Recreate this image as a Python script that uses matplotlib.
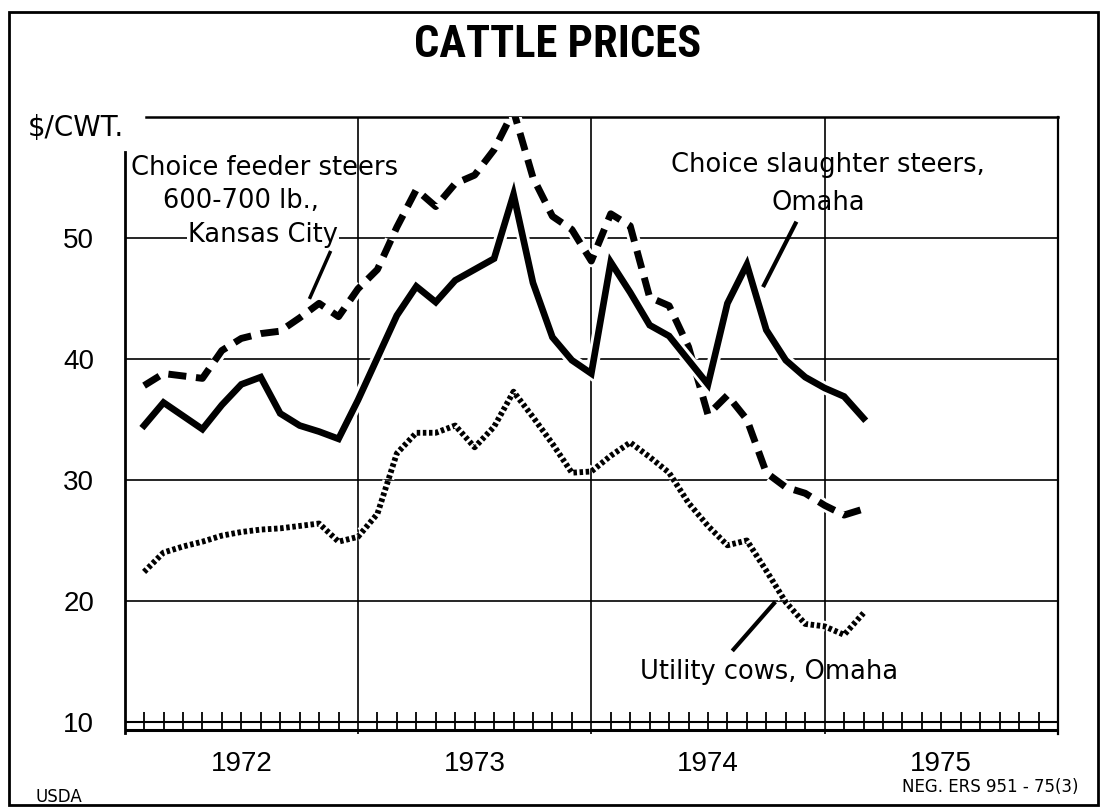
import numpy as np
import matplotlib
matplotlib.use("Agg")
import matplotlib.pyplot as plt
import matplotlib.patheffects as pe
from matplotlib import font_manager
from matplotlib.patches import Rectangle

# monthly prices, $/cwt, Jan 1972 - Feb 1975
slaughter_steers = [34.5, 36.4, 35.3, 34.2, 36.2, 37.9, 38.5, 35.5, 34.5, 34.0, 33.4, 36.6,
                    40.1, 43.6, 46.0, 44.7, 46.5, 47.4, 48.3, 53.6, 46.3, 41.8, 39.9, 38.8,
                    48.0, 45.5, 42.8, 41.9, 39.9, 37.9, 44.6, 47.8, 42.4, 39.9, 38.5, 37.6,
                    36.9, 35.1]
feeder_steers = [37.8, 38.8, 38.6, 38.4, 40.7, 41.7, 42.1, 42.3, 43.4, 44.6, 43.5, 45.8,
                 47.4, 50.9, 54.0, 52.6, 54.5, 55.2, 57.3, 60.5, 55.0, 51.8, 50.7, 48.1,
                 52.0, 51.0, 45.1, 44.4, 41.0, 35.4, 37.0, 35.0, 30.6, 29.4, 28.9, 27.9,
                 27.1, 27.6]
utility_cows = [22.4, 24.0, 24.5, 24.9, 25.4, 25.7, 25.9, 26.0, 26.2, 26.4, 24.9, 25.3,
                27.2, 32.2, 33.9, 33.9, 34.5, 32.7, 34.4, 37.3, 35.2, 33.0, 30.6, 30.7,
                32.0, 33.1, 31.9, 30.6, 28.1, 26.2, 24.6, 25.0, 22.5, 19.9, 18.1, 17.9,
                17.2, 19.0]
years = [1972, 1973, 1974, 1975]
y_ticks = [10, 20, 30, 40, 50]

# points sit on the month-end ticks
x = 1972 + (np.arange(len(slaughter_steers)) + 1) / 12.0

fonts = font_manager.fontManager.ttflist
names = {f.name for f in fonts}
label_font = "Liberation Sans" if "Liberation Sans" in names else "DejaVu Sans"

# narrow bold face for the title, if one is installed
title_kw = dict(fontfamily="DejaVu Sans", fontsize=25, fontweight="bold")
for fam in ["Liberation Sans Narrow", "Roboto Condensed", "Open Sans Condensed"]:
    if fam in names:
        title_kw = dict(fontfamily=fam, fontsize=32, fontweight="bold")
        break
else:
    if any(f.name == "DejaVu Sans" and "condensed" in str(f.stretch) for f in fonts):
        title_kw = dict(fontfamily="DejaVu Sans", fontsize=28, fontweight="bold",
                        fontstretch="condensed")

fig = plt.figure(figsize=(11, 8.1), dpi=100)
ax = fig.add_axes([0.1133, 0.0938, 0.8485, 0.7617])
ax.set_xlim(1972, 1976)
ax.set_ylim(9.0, 60)

for s in ["top", "left", "bottom"]:
    ax.spines[s].set_visible(False)
ax.spines["right"].set_linewidth(1.6)

# frame pieces
ax.plot([1972.09, 1976], [60, 60], color="black", lw=1.8, clip_on=False, zorder=2)
ax.plot([1972, 1972], [9.1, 57.1], color="black", lw=2.0, clip_on=False, zorder=2)

# grid
for v in y_ticks[1:]:
    ax.axhline(v, color="black", lw=1.2, zorder=1)
for yr in years[1:]:
    ax.axvline(yr, color="black", lw=1.2, zorder=1)

# double base line with month ticks
ax.axhline(10, color="black", lw=1.5, zorder=2)
ax.plot([1972, 1976], [9.35, 9.35], color="black", lw=2.2, zorder=2)
for k in range(1, 48):
    if k % 12:
        ax.vlines(1972 + k / 12.0, 9.3, 10.8, color="black", lw=1.3, zorder=2)

ax.set_yticks(y_ticks)
ax.set_yticklabels([str(v) for v in y_ticks], fontfamily=label_font)
ax.tick_params(axis="y", length=0, pad=22, labelsize=20)
ax.set_xticks([yr + 0.5 for yr in years])
ax.set_xticklabels([str(yr) for yr in years], fontfamily=label_font)
ax.tick_params(axis="x", length=0, pad=12, labelsize=20)

# series
ax.plot(x, feeder_steers, color="black", lw=5.0, ls=(0, (2.6, 1.4)),
        dash_capstyle="butt", zorder=4,
        path_effects=[pe.Stroke(linewidth=9, foreground="white"), pe.Normal()])
ax.plot(x, slaughter_steers, color="black", lw=4.8, solid_joinstyle="miter", zorder=4,
        path_effects=[pe.Stroke(linewidth=9, foreground="white"), pe.Normal()])
ax.plot(x, utility_cows, color="black", lw=4.2, ls=(0, (0.6, 0.45)),
        dash_capstyle="butt", zorder=4,
        path_effects=[pe.Stroke(linewidth=8, foreground="white"), pe.Normal()])

# labels
tk = dict(fontfamily="DejaVu Sans", fontsize=18.5, ha="center", va="center", zorder=3)
ax.text(1972.60, 55.8, "Choice feeder steers", **tk)
ax.text(1972.50, 53.1, "600-700 lb.,", **tk)
ax.text(1972.593, 50.25, "Kansas City",
        bbox=dict(facecolor="white", edgecolor="none", pad=1), **tk)
ax.plot([1972.88, 1972.795], [48.8, 45.1], color="black", lw=2.5, zorder=3)

ax.text(1975.014, 56.0, "Choice slaughter steers,", **tk)
ax.text(1974.971, 52.9, "Omaha", **tk)
ax.plot([1974.875, 1974.74], [51.2, 46.1], color="black", lw=3, zorder=3)

ax.text(1974.76, 14.1, "Utility cows, Omaha", **tk)
ax.plot([1974.783, 1974.61], [19.8, 16.0], color="black", lw=3, zorder=3)

# title and notes
fig.text(0.507, 0.944, "CATTLE PRICES", ha="center", va="center", **title_kw)
fig.text(0.0255, 0.842, "$/CWT.", fontfamily="DejaVu Sans", fontsize=20,
         ha="left", va="center")
fig.text(0.032, 0.016, "USDA", fontfamily="DejaVu Sans", fontsize=12,
         ha="left", va="center")
fig.text(0.98, 0.028, "NEG. ERS 951 - 75(3)", fontfamily="DejaVu Sans", fontsize=12,
         ha="right", va="center")

fig.add_artist(Rectangle((0.008, 0.006), 0.99, 0.979, transform=fig.transFigure,
                         fill=False, edgecolor="black", lw=2))

fig.savefig("out.png", dpi=100, facecolor="white")
